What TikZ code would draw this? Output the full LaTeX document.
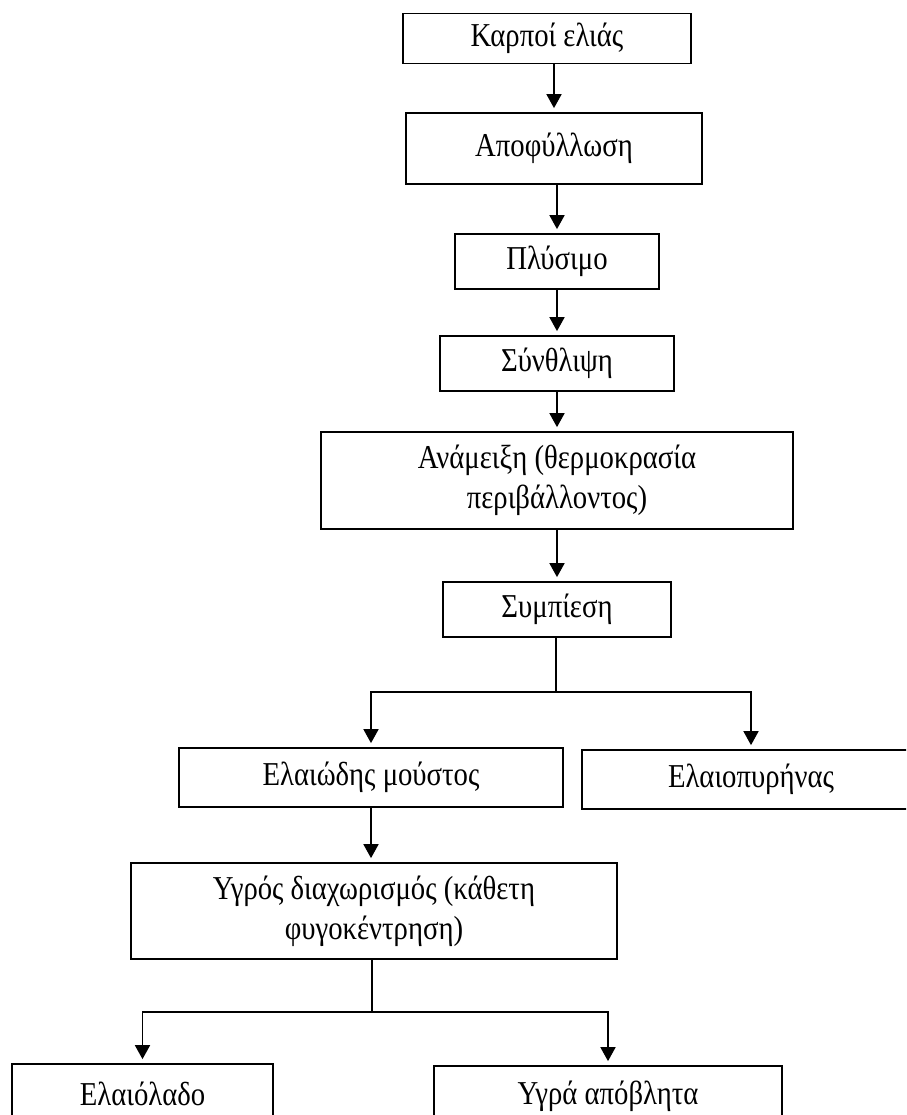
\documentclass[tikz,border=0pt]{standalone}
\usepackage{fontspec}
\setmainfont{Liberation Serif}[FakeStretch=0.86]
\usetikzlibrary{arrows.meta}

\begin{document}
\begin{tikzpicture}[x=0.02cm,y=-0.02cm,
	box/.style={draw,line width=1pt,align=center,inner sep=0pt,font=\fontsize{19}{22.8}\selectfont},
	arr/.style={line width=1pt,-{Triangle[length=0.28cm,width=0.3cm]},shorten >=0.08cm},
	lin/.style={line width=0.9pt}]
	\useasboundingbox (0,0) rectangle (906,1115);
	\clip (0,0) rectangle (906,1115);
	
	% main line
	\node[box,minimum width=5.76cm,minimum height=1cm] (fruit) at (547,38.5) {Καρποί ελιάς};
	\node[box,minimum width=5.92cm,minimum height=1.42cm] (leaves) at (554,148.5) {Αποφύλλωση};
	\node[box,minimum width=4.08cm,minimum height=1.1cm] (wash) at (557,261.5) {Πλύσιμο};
	\node[box,minimum width=4.68cm,minimum height=1.1cm] (crush) at (557,363.5) {Σύνθλιψη};
	\node[box,minimum width=9.44cm,minimum height=1.94cm] (mix) at (557,480.5) {Ανάμειξη (θερμοκρασία\\περιβάλλοντος)};
	\node[box,minimum width=4.56cm,minimum height=1.1cm] (press) at (557,609.5) {Συμπίεση};
	\draw[arr] (fruit.south -| leaves.north) -- (leaves.north);
	\draw[arr] (leaves.south -| wash.north) -- (wash.north);
	\draw[arr] (wash) -- (crush);
	\draw[arr] (crush) -- (mix);
	\draw[arr] (mix) -- (press);
	
	% first split
	\node[box,minimum width=7.68cm,minimum height=1.18cm] (must) at (371,777.5) {Ελαιώδης μούστος};
	\node[box,minimum width=6.76cm,minimum height=1.18cm] (pomace) at (751,779.5) {Ελαιοπυρήνας};
	\coordinate (split1) at (556,692);
	\draw[lin] (press.south -| split1) -- (split1);
	\draw[arr] (split1) -| (must.north);
	\draw[arr] (split1) -| (pomace.north);
	
	% second split
	\node[box,minimum width=9.72cm,minimum height=1.92cm] (sep) at (374,911) {Υγρός διαχωρισμός (κάθετη\\φυγοκέντρηση)};
	\draw[arr] (must.south) -- (must.south |- sep.north);
	\node[box,minimum width=5.22cm,minimum height=1.2cm] (oil) at (142.5,1094) {Ελαιόλαδο};
	\node[box,minimum width=6.96cm,minimum height=1.2cm] (waste) at (608,1096) {Υγρά απόβλητα};
	\coordinate (split2) at (372,1012);
	\draw[lin] (sep.south -| split2) -- (split2);
	\draw[arr] (split2) -| (oil.north);
	\draw[arr] (split2) -| (waste.north);
\end{tikzpicture}
\end{document}
